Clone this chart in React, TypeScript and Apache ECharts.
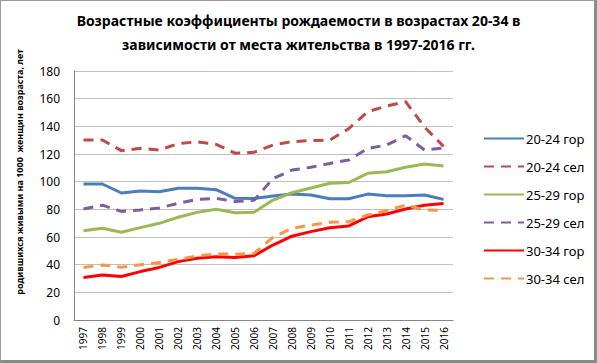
import React, { useEffect, useRef } from "react";
import * as echarts from "echarts";

const years = ["1997","1998","1999","2000","2001","2002","2003","2004","2005","2006","2007","2008","2009","2010","2011","2012","2013","2014","2015","2016"];
const gor2024 = [98.3, 98.3, 91.8, 93.3, 92.7, 95.3, 95.3, 94.2, 88, 87.8, 89.7, 91, 90.4, 87.6, 87.6, 91, 89.9, 89.9, 90.4, 87.2];
const sel2024 = [130.1, 130.1, 122.4, 124.1, 122.9, 127.5, 128.8, 127, 120.6, 121.2, 126.5, 128.9, 129.7, 130.1, 138.3, 150.6, 154.7, 157.8, 139.5, 125.5];
const gor2529 = [64.5, 66.3, 63.4, 66.8, 69.9, 74.3, 77.8, 80, 77.6, 77.9, 86.7, 92, 95.4, 98.8, 99.4, 106, 107.2, 110.4, 112.8, 111.4];
const sel2529 = [80.2, 83, 78.5, 79.6, 81, 84.4, 87.2, 88, 85.6, 86.5, 102.2, 108.4, 110.4, 113.2, 115.6, 124, 126.5, 133.2, 122.9, 124.3];
const gor3034 = [30.8, 32.6, 31.4, 35, 38, 42.2, 44.6, 45.8, 45.2, 46.4, 54.2, 60.6, 63.9, 66.7, 68, 74.6, 76.6, 80.2, 83, 84.3];
const sel3034 = [38, 39.8, 38.2, 40, 41.5, 43.9, 46.3, 47.7, 47.6, 48.2, 59.8, 66.3, 68.6, 70.6, 71.1, 75.9, 79, 83.1, 79.5, 79.2];
const yTicks = [0, 20, 40, 60, 80, 100, 120, 140, 160, 180];

const FONT = "Noto Sans";

export default function App() {
  const ref = useRef<HTMLDivElement>(null);
  useEffect(() => {
    if (!ref.current) return;
    const chart = echarts.init(ref.current, null, { renderer: "svg" });
    const solid = (name: string, data: number[], color: string) => ({
      name, type: "line", data, symbol: "none", smooth: false,
      lineStyle: { color, width: 3 }, itemStyle: { color },
    });
    const dashed = (name: string, data: number[], color: string) => ({
      name, type: "line", data, symbol: "none", smooth: false,
      lineStyle: { color, width: 3, type: [10, 7] }, itemStyle: { color },
    });
    chart.setOption({
      animation: false,
      backgroundColor: "#ffffff",
      title: {
        text: "Возрастные коэффициенты рождаемости в возрастах 20-34 в\nзависимости от места жительства в 1997-2016 гг.",
        left: "center",
        top: 3,
        textStyle: { fontFamily: FONT, fontWeight: "bold", fontSize: 14, color: "#000", lineHeight: 24 },
      },
      grid: { left: 74, right: 144, top: 71, bottom: 43, containLabel: false },
      xAxis: {
        type: "category",
        data: years,
        boundaryGap: true,
        axisLine: { lineStyle: { color: "#868686", width: 1 } },
        axisTick: { show: false },
        axisLabel: { rotate: 90, fontFamily: FONT, fontSize: 10, color: "#000", margin: 7, interval: 0 },
      },
      yAxis: {
        type: "value",
        min: yTicks[0],
        max: yTicks[yTicks.length - 1],
        interval: 20,
        axisLine: { show: true, lineStyle: { color: "#868686", width: 1 } },
        axisTick: { show: false },
        splitLine: { lineStyle: { color: "#bfbfbf", width: 1 } },
        axisLabel: { fontFamily: FONT, fontSize: 12, color: "#000", margin: 14 },
      },
      legend: {
        orient: "vertical",
        left: 478,
        top: 127,
        itemWidth: 40,
        itemHeight: 14,
        itemGap: 15,
        itemStyle: { opacity: 0 },
        textStyle: { fontFamily: FONT, fontSize: 13, color: "#000", padding: [0, 0, 0, -3] },
        data: ["20-24 гор", "20-24 сел", "25-29 гор", "25-29 сел", "30-34 гор", "30-34 сел"],
      },
      graphic: [
        {
          type: "text",
          x: 19,
          y: 172,
          rotation: Math.PI / 2,
          style: {
            text: "родившихся живыми на 1000  женщин возраста, лет",
            fontFamily: FONT,
            fontWeight: "bold",
            fontSize: 9,
            fill: "#000",
            align: "center",
            verticalAlign: "middle",
          },
        },
      ],
      series: [
        solid("20-24 гор", gor2024, "#4A7EBB"),
        dashed("20-24 сел", sel2024, "#BE4B48"),
        solid("25-29 гор", gor2529, "#98B954"),
        dashed("25-29 сел", sel2529, "#7D5FA0"),
        solid("30-34 гор", gor3034, "#FF0000"),
        dashed("30-34 сел", sel3034, "#F79646"),
      ],
    });
    return () => chart.dispose();
  }, []);
  return (
    <div style={{ position: "fixed", left: 0, top: 0, width: 597, height: 363, background: "#fff" }}>
      <div ref={ref} style={{ position: "absolute", left: 0, top: 0, width: 597, height: 363 }} />
      <div
        style={{
          position: "absolute", left: 0, top: 0, width: 597, height: 363, boxSizing: "border-box",
          borderLeft: "1px solid #9a9a9a", borderTop: "1px solid #9a9a9a",
          borderRight: "3px solid #8a8a8a", borderBottom: "3px solid #8a8a8a",
          pointerEvents: "none",
        }}
      />
    </div>
  );
}
